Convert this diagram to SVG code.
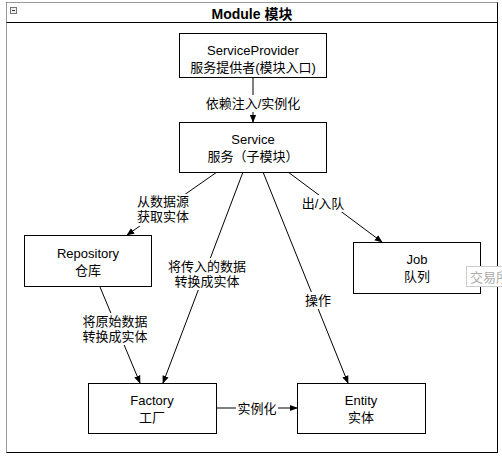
<svg xmlns="http://www.w3.org/2000/svg" width="502" height="457" viewBox="0 0 502 457">
<style>
.box{fill:#fff;stroke:#000;stroke-width:1}
.t{font-family:"Liberation Sans","Noto Sans CJK SC",sans-serif;font-size:13px;fill:#000;text-anchor:middle}
.lbl{font-family:"Liberation Sans","Noto Sans CJK SC",sans-serif;font-size:13px;fill:#000;text-anchor:middle}
.bg{fill:#fff}
.edge{stroke:#000;stroke-width:1;fill:none;marker-end:url(#arr)}
</style>
<defs>
<marker id="arr" viewBox="0 0 10 10" refX="9" refY="5" markerWidth="8" markerHeight="8" markerUnits="userSpaceOnUse" orient="auto">
<path d="M0,1 L10,5 L0,9 Z" fill="#000"/>
</marker>
</defs>
<rect width="502" height="457" fill="#fff"/>
<g id="module">
<rect x="6.5" y="2.5" width="491" height="450" fill="#fff" stroke="#000"/>
<line x1="6.5" y1="2.5" x2="497.5" y2="2.5" stroke="#999"/>
<line x1="6.5" y1="2.5" x2="6.5" y2="452.5" stroke="#999"/>
<line x1="6.5" y1="22.5" x2="497.5" y2="22.5" stroke="#000"/>
<rect x="10.5" y="7.5" width="6" height="6" fill="#eee" stroke="#777"/>
<line x1="12" y1="10.5" x2="15" y2="10.5" stroke="#333"/>
<text x="252" y="19" class="t" style="font-weight:bold;font-size:14px">Module 模块</text>
</g>
<g id="connectors">
<line class="edge" x1="253" y1="77" x2="253" y2="122"/>
<line class="edge" x1="217" y1="172" x2="127" y2="235"/>
<line class="edge" x1="243" y1="172" x2="163" y2="383"/>
<line class="edge" x1="263" y1="172" x2="348" y2="383"/>
<line class="edge" x1="288" y1="172" x2="382" y2="242"/>
<line class="edge" x1="100" y1="287" x2="140" y2="383"/>
<line class="edge" x1="217" y1="408" x2="297" y2="408"/>
<rect class="bg" x="201" y="95" width="104" height="17"/>
<text class="lbl" x="253" y="108">依赖注入/实例化</text>
<rect class="bg" x="135" y="194" width="56" height="32"/>
<text class="lbl" x="163" y="206">从数据源</text>
<text class="lbl" x="163" y="221">获取实体</text>
<rect class="bg" x="166" y="258" width="82" height="32"/>
<text class="lbl" x="207" y="271">将传入的数据</text>
<text class="lbl" x="207" y="286">转换成实体</text>
<rect class="bg" x="301" y="195" width="44" height="17"/>
<text class="lbl" x="323" y="208">出/入队</text>
<rect class="bg" x="303" y="292" width="30" height="17"/>
<text class="lbl" x="318" y="305">操作</text>
<rect class="bg" x="80" y="313" width="70" height="32"/>
<text class="lbl" x="115" y="326">将原始数据</text>
<text class="lbl" x="115" y="341">转换成实体</text>
<rect class="bg" x="236" y="400" width="42" height="17"/>
<text class="lbl" x="257" y="413">实例化</text>
</g>
<g id="serviceprovider">
<rect class="box" x="179.5" y="33.5" width="147" height="44"/>
<text class="t" x="253" y="55">ServiceProvider</text>
<text class="t" x="253" y="72">服务提供者(模块入口)</text>
</g>
<g id="service">
<rect class="box" x="179.5" y="122.5" width="147" height="50"/>
<text class="t" x="253" y="144">Service</text>
<text class="t" x="253" y="161">服务（子模块）</text>
</g>
<g id="repository">
<rect class="box" x="24.5" y="235.5" width="127" height="51"/>
<text class="t" x="88" y="258">Repository</text>
<text class="t" x="88" y="275">仓库</text>
</g>
<g id="job">
<rect class="box" x="353.5" y="242.5" width="127" height="51"/>
<text class="t" x="417" y="264">Job</text>
<text class="t" x="417" y="281">队列</text>
</g>
<g id="factory">
<rect class="box" x="88.5" y="383.5" width="128" height="50"/>
<text class="t" x="152" y="405">Factory</text>
<text class="t" x="152" y="422">工厂</text>
</g>
<g id="entity">
<rect class="box" x="297.5" y="383.5" width="128" height="50"/>
<text class="t" x="361" y="405">Entity</text>
<text class="t" x="361" y="422">实体</text>
</g>
<g id="tooltip">
<rect x="466.5" y="266.5" width="40" height="20" fill="#fff" stroke="#ccc"/>
<text x="470" y="282" style="font-family:'Liberation Sans','Noto Sans CJK SC',sans-serif;font-size:13px;fill:#aaa">交易所</text>
</g>
</svg>
